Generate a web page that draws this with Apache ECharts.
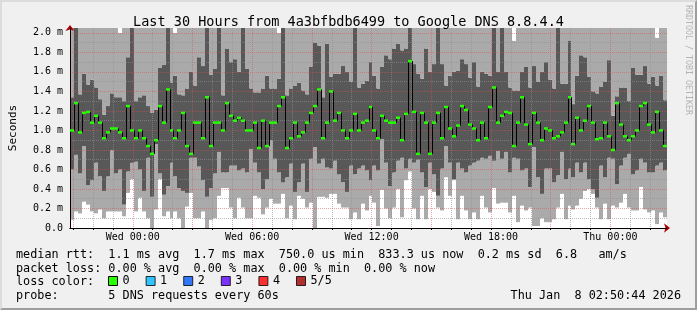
<!DOCTYPE html>
<html><head><meta charset="utf-8">
<script src="https://cdn.jsdelivr.net/npm/echarts@6/dist/echarts.min.js"></script>
<style>
html,body{margin:0;padding:0;background:#f0f0f0;}
#c{position:absolute;left:0;top:0;width:697px;height:310px;}
#frame{position:absolute;left:0;top:0;width:697px;height:310px;box-sizing:border-box;border-top:2px solid #dcdcdc;border-left:2px solid #dcdcdc;border-right:2px solid #9e9e9e;border-bottom:2px solid #9e9e9e;pointer-events:none;}
</style></head><body>
<div id="c"></div><div id="frame"></div>
<script>
// 150 consolidated intervals (12 min each), values in ms; 5 DNS requests sorted per interval
const ping1 = [0.085,0.17,0.15,0.27,0.24,0.17,0.15,0.19,0.10,0.17,
0.17,0.17,0.17,0.12,0.36,0.50,0.17,0.31,0.17,0.10,
0,0.19,0.50,0.12,0.17,0.10,0.17,0.10,0,0.22,
0.36,0.10,0.10,0.17,0,0.085,0.10,0.33,0.41,0.41,
0.21,0.10,0.31,0.21,0.10,0.10,0.33,0.31,0.14,0.21,
0.30,0.25,0.25,0.35,0.10,0.23,0.09,0.33,0.30,0.21,
0.26,0,0.32,0.32,0.31,0.35,0.35,0.25,0.21,0.21,
0.09,0.16,0.09,0.25,0.18,0.33,0.26,0.02,0.39,0.20,
0.10,0.21,0.40,0.11,0.49,0.58,0.20,0.09,0.33,0.09,
0.40,0.37,0.21,0.18,0.52,0.33,0.49,0.09,0.33,0.18,
0.09,0.16,0.09,0.33,0.21,0.16,0.41,0.25,0.26,0.26,
0.16,0.33,0.06,0.23,0.18,0.21,0.02,0.02,0.10,0.06,
0.06,0.09,0.21,0.35,0.09,0.23,0.19,0.23,0.30,0.38,
0.40,0.35,0.21,0.09,0.25,0.09,0.23,0.21,0.26,0.35,
0.21,0.18,0.18,0.42,0.19,0.16,0.18,0.04,0.16,0.11];
const ping2 = [0.60,0.75,0.56,0.84,0.44,0.49,0.67,0.53,0.38,0.53,
0.80,0.56,0.60,0.24,0.58,0.67,0.68,0.60,0.38,0.72,
0.32,0.86,0.56,0.34,0.43,0.67,0.53,0.41,0.38,0.36,
0.72,0.72,0.63,0.49,0.32,0.41,0.56,0.78,0.57,0.57,
0.64,0.64,0.59,0.61,0.57,0.81,0.67,0.57,0.40,0.50,
0.90,0.71,0.57,0.47,0.52,0.66,0.37,0.47,0.66,0.37,
0.71,0.83,0.66,0.71,0.62,0.61,0.69,0.55,0.47,0.37,
0.64,0.55,0.61,0.64,0.59,0.49,0.64,0.59,0.91,0.67,
0.43,0.57,0.69,0.72,0.61,0.71,0.67,0.70,0.57,0.42,
0.67,0.55,0.33,0.61,0.84,0.67,0.50,0.67,0.61,0.57,
0.64,0.67,0.69,0.72,0.71,0.74,0.69,0.79,0.71,0.78,
0.57,0.72,0.71,0.59,0.61,0.42,0.83,0.52,0.35,0.61,
0.61,0.47,0.54,0.78,0.50,0.61,0.52,0.67,0.57,0.67,
0.50,0.40,0.31,0.64,0.52,0.72,0.71,0.45,0.64,0.72,
0.76,0.55,0.59,0.71,0.67,0.57,0.57,0.64,0.67,0.59];
const median = [1.00,1.28,0.98,1.18,1.19,1.08,1.15,1.08,0.92,0.98,
1.02,1.02,0.98,0.92,1.25,1.00,0.92,1.00,0.92,0.84,
0.76,0.90,1.25,1.08,1.42,1.00,0.92,1.00,1.18,0.84,
0.76,1.08,1.08,0.92,1.34,0.84,1.08,1.08,1.00,1.28,
1.15,1.10,1.13,1.10,1.00,1.00,1.08,0.82,1.10,0.84,
1.08,1.08,1.25,1.34,0.82,0.92,1.08,0.94,0.98,1.08,
1.18,1.25,1.42,0.92,1.08,1.40,1.10,1.18,1.00,0.92,
1.00,1.17,1.00,1.08,1.10,1.24,1.00,0.92,1.15,1.10,
1.08,1.08,1.13,0.90,1.17,1.71,1.19,0.76,1.18,1.08,
0.76,1.08,1.18,0.92,1.24,1.02,0.94,1.05,1.25,1.21,
1.06,1.02,0.90,1.08,0.92,1.24,1.44,1.08,1.15,1.19,
1.18,0.84,1.08,1.34,1.06,0.86,1.18,1.08,0.90,1.02,
1.00,0.92,0.94,0.98,1.08,1.34,0.86,1.13,1.00,1.10,
1.25,1.08,0.91,0.92,1.08,0.94,0.80,1.28,1.06,0.94,
0.90,0.94,1.00,1.25,1.28,1.06,0.98,1.19,1.00,0.84];
const ping4 = [1.34,2.1,1.37,1.58,1.47,1.52,1.44,1.32,1.16,1.25,
1.38,1.34,1.34,1.30,1.75,2.1,1.30,1.34,1.36,1.25,
1.18,1.21,1.64,1.67,2.1,1.49,1.56,1.37,1.36,1.43,
1.60,1.46,1.75,1.66,2.1,1.57,1.63,2.1,1.36,1.84,
1.70,1.73,1.60,2.1,1.63,1.43,1.39,1.39,1.43,1.56,
1.43,1.43,1.53,2.1,1.36,1.43,1.46,1.49,1.41,1.37,
1.65,1.90,1.87,1.34,1.89,1.55,1.58,1.58,1.66,1.60,
1.50,2.1,1.44,1.48,1.51,1.70,1.56,1.43,1.65,1.77,
1.73,1.84,1.89,1.82,1.84,2.1,1.68,1.58,1.53,1.84,
1.60,1.68,2.1,1.68,1.46,1.56,1.60,1.61,1.73,1.68,
1.54,1.70,1.45,1.60,1.58,1.56,2.1,1.60,2.1,1.60,
1.44,1.41,1.41,1.60,1.65,1.44,1.66,1.50,1.60,1.70,
1.52,1.43,2.1,1.48,1.48,1.92,1.27,1.56,1.77,1.75,
1.55,1.40,1.38,1.45,1.50,1.72,1.15,1.35,1.44,1.44,
1.30,1.64,1.57,1.57,1.66,1.48,1.55,1.46,1.56,1.31];
const ping5 = [2.2,2.2,2.2,2.2,2.2,2.2,2.2,2.2,2.2,2.2,
2.2,2.2,2.0,2.2,2.2,2.2,2.2,2.2,2.2,2.2,
2.2,2.2,2.2,2.2,2.2,2.2,2.0,2.2,2.2,2.2,
2.2,2.2,2.2,2.2,2.2,2.2,2.2,2.2,2.2,2.2,
2.2,2.2,2.2,2.2,2.2,2.2,2.2,2.2,2.2,2.2,
2.2,2.2,2.0,2.2,2.2,2.2,2.2,2.2,2.2,2.2,
2.2,2.2,2.2,2.2,2.2,2.2,2.2,2.2,2.2,2.2,
2.2,2.2,2.2,2.2,2.2,2.2,2.2,2.2,2.2,2.2,
2.2,2.2,2.2,2.2,2.2,2.2,2.2,2.2,2.2,2.2,
2.2,2.2,2.2,2.2,2.2,2.2,2.2,2.2,2.2,2.2,
2.2,2.2,2.2,2.2,2.2,2.2,2.2,2.2,2.2,2.2,
2.2,1.92,2.2,2.2,2.2,2.2,2.2,2.2,2.2,2.2,
2.2,2.2,2.2,2.2,2.2,2.2,2.2,2.2,2.2,2.2,
2.2,2.2,2.2,2.2,2.2,2.2,2.2,2.2,2.2,2.2,
2.2,2.2,2.2,2.2,2.2,2.2,2.2,1.95,2.2,2.2];

// time axis in hours relative to Wed 00:00 (Tue 20:50:44 .. Thu 02:50:44)
const hourStart = -(3 + 9/60 + 16/3600);
const hourEnd = hourStart + 30;
const timeTicks = [0, 6, 12, 18, 24];
const timeLabels = ['Wed 00:00', 'Wed 06:00', 'Wed 12:00', 'Wed 18:00', 'Thu 00:00'];
const lossNames = ['0', '1', '2', '3', '4', '5/5'];
const lossColors = ['#26ff00', '#00b8ff', '#0059ff', '#5e00ff', '#ff0000', '#a00000'];
const statLines = [
  'median rtt:  1.1 ms avg  1.7 ms max  750.0 us min  833.3 us now  0.2 ms sd  6.8   am/s',
  'packet loss: 0.00 % avg  0.00 % max  0.00 % min  0.00 % now',
  'loss color:',
  'probe:       5 DNS requests every 60s'
];
const stamp = 'Thu Jan  8 02:50:44 2026';

const MONO = '"DejaVu Sans Mono", monospace';
const LIGHT = '#aaaaaa', DARK = '#585858', CANVAS = '#ffffff';
const N = median.length;
// interval i spans [i, i+1] on the step axis
const smokeRows = median.map((_, i) => [i, ping1[i], ping2[i], ping4[i], ping5[i]]);
const medianRows = median.map((m, i) => [i, m, i > 0 ? median[i - 1] : m]);

const minorCol = 'rgba(143,143,143,0.6)';
const majorCol = 'rgba(222,79,79,0.5)';
const ARROW = '#b00000';
const hourTicks = [];
for (let h = Math.ceil(hourStart); h <= Math.floor(hourEnd); h++) hourTicks.push(h);

function stepEdges(api, i) {
  return [Math.round(api.coord([i, 0])[0]), Math.round(api.coord([i + 1, 0])[0])];
}
function renderSmoke(params, api) {
  const i = api.value(0);
  const [x0, x1] = stepEdges(api, i);
  const cs = params.coordSys;
  const top = cs.y, bottom = cs.y + cs.height;
  const y = v => Math.max(api.coord([i, v])[1], top);
  const y1 = y(api.value(1)), y2 = y(api.value(2)), y4 = y(api.value(3)), y5 = y(api.value(4));
  // each column is painted full height and overlaps its right neighbour by 1px (neighbour paints over it)
  const rect = (ya, yb, color) => ({type: 'rect', shape: {x: x0, y: yb, width: x1 - x0 + 1, height: Math.max(ya - yb, 0)},
    style: {fill: color}});
  return {type: 'group', children: [
    rect(bottom, y1, CANVAS), rect(y1, y2, LIGHT), rect(y2, y4, DARK), rect(y4, y5, LIGHT), rect(y5, top, CANVAS)
  ]};
}
function renderMedian(params, api) {
  const i = api.value(0);
  const [x0, x1] = stepEdges(api, i);
  const ym = api.coord([i, api.value(1)])[1];
  const yp = api.coord([i, api.value(2)])[1];
  return {type: 'group', children: [
    {type: 'line', shape: {x1: x0 + 0.5, y1: yp, x2: x0 + 0.5, y2: ym}, style: {stroke: '#000', lineWidth: 1}},
    {type: 'rect', shape: {x: x0, y: ym - 1.25, width: x1 - x0, height: 2.5}, style: {fill: api.visual('color')}}
  ]};
}

const chart = echarts.init(document.getElementById('c'), null, {renderer: 'canvas'});
const series = [
  {type: 'custom', data: smokeRows, renderItem: renderSmoke, encode: {x: 0, y: [1, 2, 3, 4]}, clip: true, silent: true, z: 2},
  {name: lossNames[0], type: 'custom', data: medianRows, renderItem: renderMedian, encode: {x: 0, y: [1, 2]},
   clip: true, silent: true, z: 12, itemStyle: {color: lossColors[0]}}
];
for (let i = 1; i < lossNames.length; i++) {
  series.push({name: lossNames[i], type: 'scatter', data: [], itemStyle: {color: lossColors[i]}});
}

chart.setOption({
  animation: false,
  backgroundColor: '#f0f0f0',
  title: {text: 'Last 30 Hours from 4a3bfbdb6499 to Google DNS 8.8.4.4', left: 'center', top: 10,
    textStyle: {fontFamily: MONO, fontSize: 13.5, fontWeight: 'normal', color: '#000'}},
  grid: {left: 67, top: 28, width: 600, height: 200, show: true, backgroundColor: '#ffffff', borderWidth: 0},
  legend: {data: lossNames, left: 108, top: 275, icon: 'rect', itemWidth: 9, itemHeight: 9, itemGap: 16,
    selectedMode: false, padding: 0,
    itemStyle: {borderColor: '#000', borderWidth: 1},
    textStyle: {fontFamily: MONO, fontSize: 11.8, color: '#000'}},
  xAxis: [
    {type: 'value', min: 0, max: N, position: 'bottom', z: 8,
     axisLine: {show: true, onZero: false, symbol: ['none', 'arrow'], symbolSize: [7, 6], symbolOffset: [0, 3],
       lineStyle: {color: ARROW, width: 1, type: [0, 10000]}},
     axisTick: {show: false}, axisLabel: {show: false}, splitLine: {show: false}},
    {type: 'value', min: hourStart, max: hourEnd, position: 'bottom', z: 9,
     axisLine: {show: true, onZero: false, lineStyle: {color: '#000', width: 1}},
     axisTick: {show: true, customValues: hourTicks, length: 2, lineStyle: {color: '#000'}},
     axisLabel: {customValues: timeTicks, margin: 4, fontFamily: MONO, fontSize: 10, color: '#000',
       formatter: v => timeLabels[timeTicks.indexOf(Math.round(v))] || ''},
     splitLine: {show: true, lineStyle: {color: [majorCol, minorCol, minorCol], width: 1, type: [1, 1]}}}
  ],
  yAxis: [
    {type: 'value', min: 0, max: 2.05, interval: 0.1, position: 'left', z: 9,
     name: 'Seconds', nameLocation: 'middle', nameGap: 51, nameRotate: 90,
     nameTextStyle: {fontFamily: MONO, fontSize: 11, color: '#000'},
     axisLine: {show: true, onZero: false, lineStyle: {color: '#000', width: 1}},
     axisTick: {show: false},
     axisLabel: {margin: 7, fontFamily: MONO, fontSize: 10, color: '#000', showMaxLabel: false,
       formatter: v => {
         const k = v / 0.2;
         if (Math.abs(k - Math.round(k)) > 1e-6 || v > 2.0001) return '';
         return v === 0 ? '0.0' : v.toFixed(1) + ' m';
       }},
     splitLine: {show: true, showMaxLine: false, lineStyle: {color: [majorCol, minorCol], width: 1, type: [1, 1]}}},
    {type: 'value', min: 0, max: 2.05, position: 'left', offset: 0, z: 8,
     axisLine: {show: true, onZero: false, symbol: ['none', 'arrow'], symbolSize: [7, 6], symbolOffset: [0, 3],
       lineStyle: {color: ARROW, width: 1, type: [0, 10000]}},
     axisTick: {show: false}, axisLabel: {show: false}, splitLine: {show: false}}
  ],
  series: series,
  graphic: [
    {type: 'text', x: 16, y: 255, style: {text: statLines[0], font: '11.8px ' + MONO, fill: '#000', verticalAlign: 'middle'}},
    {type: 'text', x: 16, y: 268.5, style: {text: statLines[1], font: '11.8px ' + MONO, fill: '#000', verticalAlign: 'middle'}},
    {type: 'text', x: 16, y: 282, style: {text: statLines[2], font: '11.8px ' + MONO, fill: '#000', verticalAlign: 'middle'}},
    {type: 'text', x: 16, y: 296, style: {text: statLines[3], font: '11.8px ' + MONO, fill: '#000', verticalAlign: 'middle'}},
    {type: 'text', x: 681, y: 296, style: {text: stamp, font: '11.8px ' + MONO, fill: '#000', align: 'right', verticalAlign: 'middle'}},
    {type: 'text', x: 688, y: 5, rotation: -Math.PI / 2, style: {text: 'RRDTOOL / TOBI OETIKER', font: '8.3px ' + MONO, fill: '#b4b4b4', align: 'left', verticalAlign: 'middle'}}
  ]
});
</script>
</body></html>
